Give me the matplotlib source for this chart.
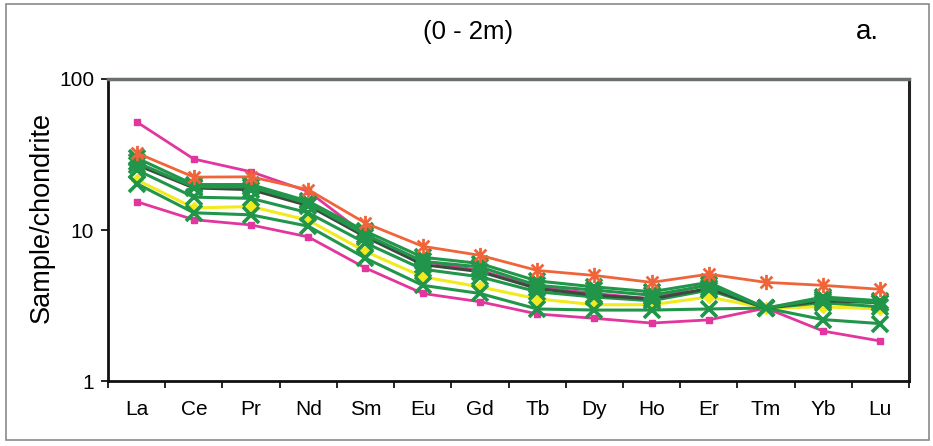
import matplotlib
matplotlib.use("Agg")
import matplotlib.pyplot as plt
from matplotlib.path import Path
from matplotlib.patches import Rectangle

plt.rcParams['font.family'] = ['Liberation Sans', 'DejaVu Sans']

elements = ["La", "Ce", "Pr", "Nd", "Sm", "Eu", "Gd", "Tb", "Dy", "Ho", "Er", "Tm", "Yb", "Lu"]

# sample/chondrite values
magenta_top = [52, 29.5, 24.3, 18, 9.3, 6.2, 5.4, 4.2, 3.8, 3.5, 4.4, 3.04, 3.4, 3.35]
orange = [32.4, 22.4, 22.5, 18.5, 11.1, 7.8, 6.8, 5.4, 5.0, 4.5, 5.1, 4.5, 4.3, 4.05]
green_1 = [30, 20, 20, 15.5, 9.8, 6.6, 6.0, 4.6, 4.2, 3.9, 4.5, 3.04, 3.6, 3.4]
green_2 = [28, 19.3, 19.3, 15, 9.3, 6.2, 5.7, 4.3, 4.0, 3.7, 4.3, 3.04, 3.5, 3.3]
dark_line = [27, 19, 18.5, 14.5, 9.0, 5.9, 5.3, 4.1, 3.7, 3.5, 4.1, 3.04, 3.4, 3.3]
green_3 = [25, 16.5, 16.2, 13, 8.2, 5.5, 4.9, 3.9, 3.6, 3.4, 4.0, 3.04, 3.3, 3.1]
yellow = [21.5, 14, 14.3, 11.6, 7.2, 4.9, 4.2, 3.5, 3.2, 3.2, 3.6, 3.04, 3.1, 3.0]
green_4 = [20.3, 13, 12.6, 10.6, 6.5, 4.3, 3.8, 3.0, 2.95, 2.95, 3.0, 3.04, 2.55, 2.4]
magenta_bottom = [15.4, 11.7, 10.8, 9.0, 5.6, 3.8, 3.35, 2.78, 2.6, 2.42, 2.54, 3.04, 2.14, 1.84]

x = list(range(len(elements)))

# excel style asterisk: an X with a vertical bar
asterisk = Path([(-1, -1), (1, 1), (-1, 1), (1, -1), (0, -1.3), (0, 1.3)],
                [Path.MOVETO, Path.LINETO, Path.MOVETO, Path.LINETO, Path.MOVETO, Path.LINETO])

MAG = "#e2369e"
GRN = "#21964a"

fig = plt.figure(figsize=(9.33, 4.46), dpi=100)
ax = fig.add_axes([0.1158, 0.1457, 0.8585, 0.6772])

ax.plot(x, magenta_bottom, color=MAG, lw=2, marker="s", ms=5)
ax.plot(x, magenta_top, color=MAG, lw=2, marker="s", ms=5)
ax.plot(x, yellow, color="#f2ea1c", lw=2.2, marker="D", ms=6)
ax.plot(x, green_4, color=GRN, lw=2.2, marker="x", ms=12, mew=2.6)
ax.plot(x, green_3, color=GRN, lw=2.2, marker="x", ms=12, mew=2.6)
ax.plot(x, dark_line, color="#3c4a3e", lw=2.2, marker="x", ms=12, mew=2.6, mec=GRN)
ax.plot(x, green_2, color=GRN, lw=2.2, marker="x", ms=12, mew=2.6)
ax.plot(x, green_1, color=GRN, lw=2.2, marker="x", ms=12, mew=2.6)
ax.plot(x, orange, color="#f0643a", lw=2, marker=asterisk, ms=11, mew=2, mfc="none")

ax.set_yscale("log")
ax.set_ylim(1, 100)
ax.set_yticks([1, 10, 100])
ax.set_yticklabels(["1", "10", "100"])
ax.minorticks_off()
ax.set_xlim(-0.5, len(elements) - 0.5)
ax.set_xticks(x)
ax.set_xticklabels(elements)
ax.set_xticks([i - 0.5 for i in range(len(elements) + 1)], minor=True)
ax.tick_params(axis="x", which="major", length=0, pad=14, labelsize=15)
ax.tick_params(axis="x", which="minor", length=5, width=1.2, direction="out")
ax.tick_params(axis="y", which="major", length=5, width=1.2, direction="out", labelsize=15, pad=5)

for side in ["left", "bottom"]:
    ax.spines[side].set_linewidth(2)
    ax.spines[side].set_color("#111111")
ax.spines["right"].set_linewidth(2.2)
ax.spines["right"].set_color("#222222")
ax.spines["top"].set_linewidth(2.5)
ax.spines["top"].set_color("#6a706c")

ax.set_ylabel("Sample/chondrite", fontsize=19.5)
ax.yaxis.set_label_coords(-0.066, 0.543)

fig.text(0.502, 0.928, "(0 - 2m)", ha="center", va="center", fontsize=18.5)
fig.text(0.930, 0.928, "a.", ha="center", va="center", fontsize=20)

fig.patches.append(Rectangle((0.0065, 0.013), 0.9895, 0.978, transform=fig.transFigure,
                             fill=False, edgecolor="#8a8a8a", lw=1.2))

fig.savefig("out.png", dpi=100)
